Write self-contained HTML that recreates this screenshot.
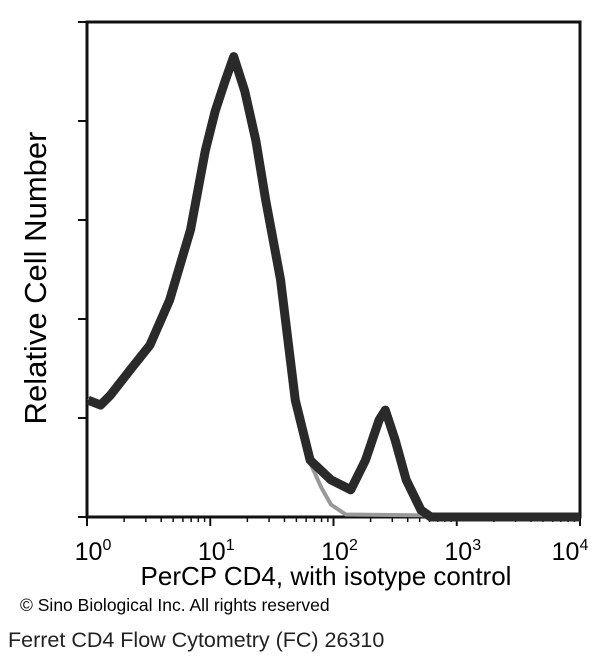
<!DOCTYPE html>
<html><head><meta charset="utf-8"><style>
html,body{margin:0;padding:0;background:#fff;width:600px;height:665px;overflow:hidden;font-family:"Liberation Sans",sans-serif}
</style></head><body>
<svg id="chart" width="600" height="665" xmlns="http://www.w3.org/2000/svg">
<rect x="87" y="22" width="493" height="495" fill="none" stroke="#111" stroke-width="3"/>
<g id="ticks"></g>
<g id="series"></g>
<text x="46" y="278" transform="rotate(-90 46 278)" text-anchor="middle" font-size="31" fill="#000">Relative Cell Number</text>
<text x="326" y="585" text-anchor="middle" font-size="26" fill="#000">PerCP CD4, with isotype control</text>
<text x="20" y="611" font-size="17.5" fill="#000">© Sino Biological Inc. All rights reserved</text>
<text x="8" y="647" font-size="21.5" fill="#222">Ferret CD4 Flow Cytometry (FC) 26310</text>
</svg>
<script>
const decades = [0, 1, 2, 3, 4];
const yTicks = [0, 20, 40, 60, 80, 100];
const sampleLog = [0.01,0.11,0.19,0.35,0.51,0.67,0.84,0.96,1.04,1.12,1.19,1.28,1.37,1.45,1.57,1.69,1.81,1.98,2.14,2.26,2.37,2.42,2.50,2.59,2.71,2.79,2.95,4.0];
const sampleCount = [23.6,22.6,24.6,29.7,34.7,43.8,58,74,82,88,93,86,76,64,48,23.6,11.5,7.5,5.5,11.5,19.6,21.6,15.6,7.5,1.4,0,0,0];
const isoLog = [0.01,0.11,0.19,0.35,0.51,0.67,0.84,0.96,1.04,1.12,1.19,1.28,1.37,1.45,1.57,1.69,1.81,1.90,1.98,2.10,4.0];
const isoCount = [24,23,25,30,35,44,58,74,82,88,92,86,76,64,48,24,11,6,2.5,0.5,0];
const X0=87,X1=580,Y0=517,Y1=22;
const xs = v => X0 + (v-0)/(4-0)*(X1-X0);
const ys = v => Y0 - v/100*(Y0-Y1);
const NS="http://www.w3.org/2000/svg";
const tg=document.getElementById('ticks'), sg=document.getElementById('series');
decades.forEach(d=>{
  const l=document.createElementNS(NS,'line');
  l.setAttribute('x1',xs(d));l.setAttribute('x2',xs(d));l.setAttribute('y1',Y0);l.setAttribute('y2',Y0+9);
  l.setAttribute('stroke','#111');l.setAttribute('stroke-width','2');
  
  
  tg.appendChild(l);
  if(d<4){for(let k=2;k<10;k++){const m=document.createElementNS(NS,'line');const xv=xs(d+Math.log10(k));
    m.setAttribute('x1',xv);m.setAttribute('x2',xv);m.setAttribute('y1',Y0);m.setAttribute('y2',Y0+5);
    m.setAttribute('stroke','#111');m.setAttribute('stroke-width','1.5');
    
    
    tg.appendChild(m);}}
  const t=document.createElementNS(NS,'text');
  t.setAttribute('x',xs(d)+(d===4?-10:6));t.setAttribute('y',560);t.setAttribute('text-anchor','middle');t.setAttribute('font-size','25');
  t.innerHTML='10<tspan dy="-10" font-size="16">'+d+'</tspan>';
  
  
  tg.appendChild(t);
});
yTicks.forEach(v=>{
  const l=document.createElementNS(NS,'line');
  l.setAttribute('x1',X0-9);l.setAttribute('x2',X0);l.setAttribute('y1',ys(v));l.setAttribute('y2',ys(v));
  l.setAttribute('stroke','#111');l.setAttribute('stroke-width','2');
  
  
  tg.appendChild(l);
});
function pts(a,b){return a.map((v,i)=>xs(v).toFixed(1)+','+ys(b[i]).toFixed(1)).join(' ');}
const iso=document.createElementNS(NS,'polyline');
iso.setAttribute('points',pts(isoLog,isoCount));iso.setAttribute('fill','none');iso.setAttribute('stroke','#999');iso.setAttribute('stroke-width','4');


sg.appendChild(iso);
const s=document.createElementNS(NS,'polyline');
s.setAttribute('points',pts(sampleLog,sampleCount));s.setAttribute('fill','none');s.setAttribute('stroke','#2a2a2a');s.setAttribute('stroke-width','9');s.setAttribute('stroke-linejoin','round');


sg.appendChild(s);
</script>
</body></html>
